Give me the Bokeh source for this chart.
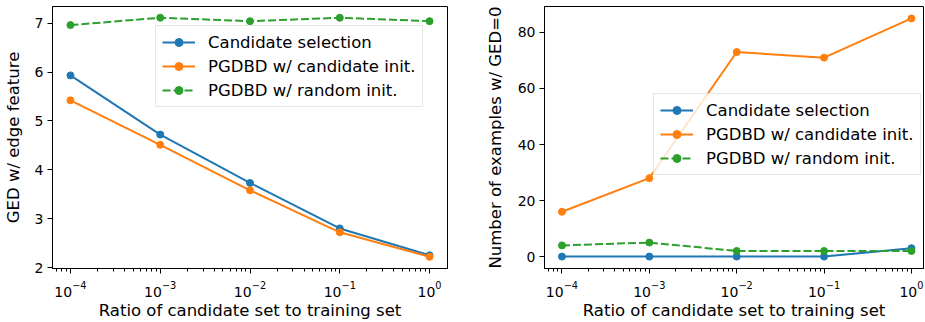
from bokeh.plotting import figure
from bokeh.layouts import row
from bokeh.models import FixedTicker, Range1d
from bokeh.embed import file_html
from bokeh.resources import INLINE

# ---- data ----
ratios = [1e-4, 1e-3, 1e-2, 1e-1, 1.0]
series_names = ["Candidate selection", "PGDBD w/ candidate init.", "PGDBD w/ random init."]
ged_candidate = [5.93, 4.72, 3.73, 2.80, 2.25]
ged_pgdbd_cand = [5.42, 4.51, 3.58, 2.72, 2.22]
ged_pgdbd_rand = [6.96, 7.11, 7.04, 7.11, 7.04]
cnt_candidate = [0, 0, 0, 0, 3]
cnt_pgdbd_cand = [16, 28, 73, 71, 85]
cnt_pgdbd_rand = [4, 5, 2, 2, 2]
x_major_ticks = [1e-4, 1e-3, 1e-2, 1e-1, 1.0]
x_minor_ticks = [k * 10.0 ** e for e in range(-5, 1) for k in range(2, 10)]
left_yticks = [2, 3, 4, 5, 6, 7]
right_yticks = [0, 20, 40, 60, 80]
x_label = "Ratio of candidate set to training set"
left_ylabel = "GED w/ edge feature"
right_ylabel = "Number of examples w/ GED=0"

COLORS = ["#1f77b4", "#ff7f0e", "#2ca02c"]
DASHES = ["solid", "solid", "8 3"]
FONT = "DejaVu Sans"
TICK_FS = "14px"
LABEL_FS = "16.5px"


def make_fig(width, border_left, border_right, xexp, yr, yticks, ylabel, series,
             legend_loc, ylabel_standoff):
    p = figure(width=width, height=322, x_axis_type="log",
               x_range=Range1d(10 ** xexp[0], 10 ** xexp[1]), y_range=Range1d(*yr),
               output_backend="svg", toolbar_location=None,
               min_border_left=border_left, min_border_right=border_right,
               min_border_top=6, min_border_bottom=53)
    p.grid.visible = False
    p.outline_line_color = "black"
    p.outline_line_width = 1
    p.outline_line_alpha = 1
    p.background_fill_color = "white"
    p.border_fill_color = "white"

    for vals, name, col, dash in zip(series, series_names, COLORS, DASHES):
        p.line(ratios, vals, line_color=col, line_width=2, line_dash=dash, legend_label=name)
        p.scatter(ratios, vals, size=7, fill_color=col, line_color=col, legend_label=name)

    p.xaxis.ticker = FixedTicker(ticks=x_major_ticks, minor_ticks=x_minor_ticks)
    p.yaxis.ticker = FixedTicker(ticks=yticks)
    p.xaxis.axis_label = x_label
    p.yaxis.axis_label = ylabel
    for ax in [p.xaxis[0], p.yaxis[0]]:
        ax.axis_line_color = "black"
        ax.major_tick_line_color = "black"
        ax.minor_tick_line_color = "black"
        ax.major_tick_out = 5
        ax.major_tick_in = 0
        ax.minor_tick_out = 3
        ax.minor_tick_in = 0
        ax.major_label_text_font = FONT
        ax.major_label_text_font_size = TICK_FS
        ax.major_label_text_color = "black"
        ax.axis_label_text_font = FONT
        ax.axis_label_text_font_size = LABEL_FS
        ax.axis_label_text_font_style = "normal"
        ax.axis_label_text_color = "black"
    p.xaxis.major_label_standoff = 7
    p.xaxis.axis_label_standoff = 1
    p.yaxis.major_label_standoff = 4
    p.yaxis.axis_label_standoff = ylabel_standoff

    lg = p.legend[0]
    lg.location = legend_loc
    lg.label_text_font = FONT
    lg.label_text_font_size = LABEL_FS
    lg.label_text_color = "black"
    lg.glyph_width = 33
    lg.glyph_height = 20
    lg.label_height = 20
    lg.label_standoff = 13
    lg.spacing = 4
    lg.padding = 6
    lg.margin = 0
    lg.border_line_color = "#cccccc"
    lg.border_line_width = 1
    lg.background_fill_color = "white"
    lg.background_fill_alpha = 0.8
    return p


p1 = make_fig(472, 52, 25, (-4.2, 0.2), (1.98, 7.34), left_yticks, left_ylabel,
              [ged_candidate, ged_pgdbd_cand, ged_pgdbd_rand], (103, 161), 9)
p2 = make_fig(452, 72, 1, (-4.2, 0.138), (-4.25, 89.25), right_yticks, right_ylabel,
              [cnt_candidate, cnt_pgdbd_cand, cnt_pgdbd_rand], (109, 93), 10)

layout = row(p1, p2)
open("out.html", "w").write(file_html(layout, INLINE))
